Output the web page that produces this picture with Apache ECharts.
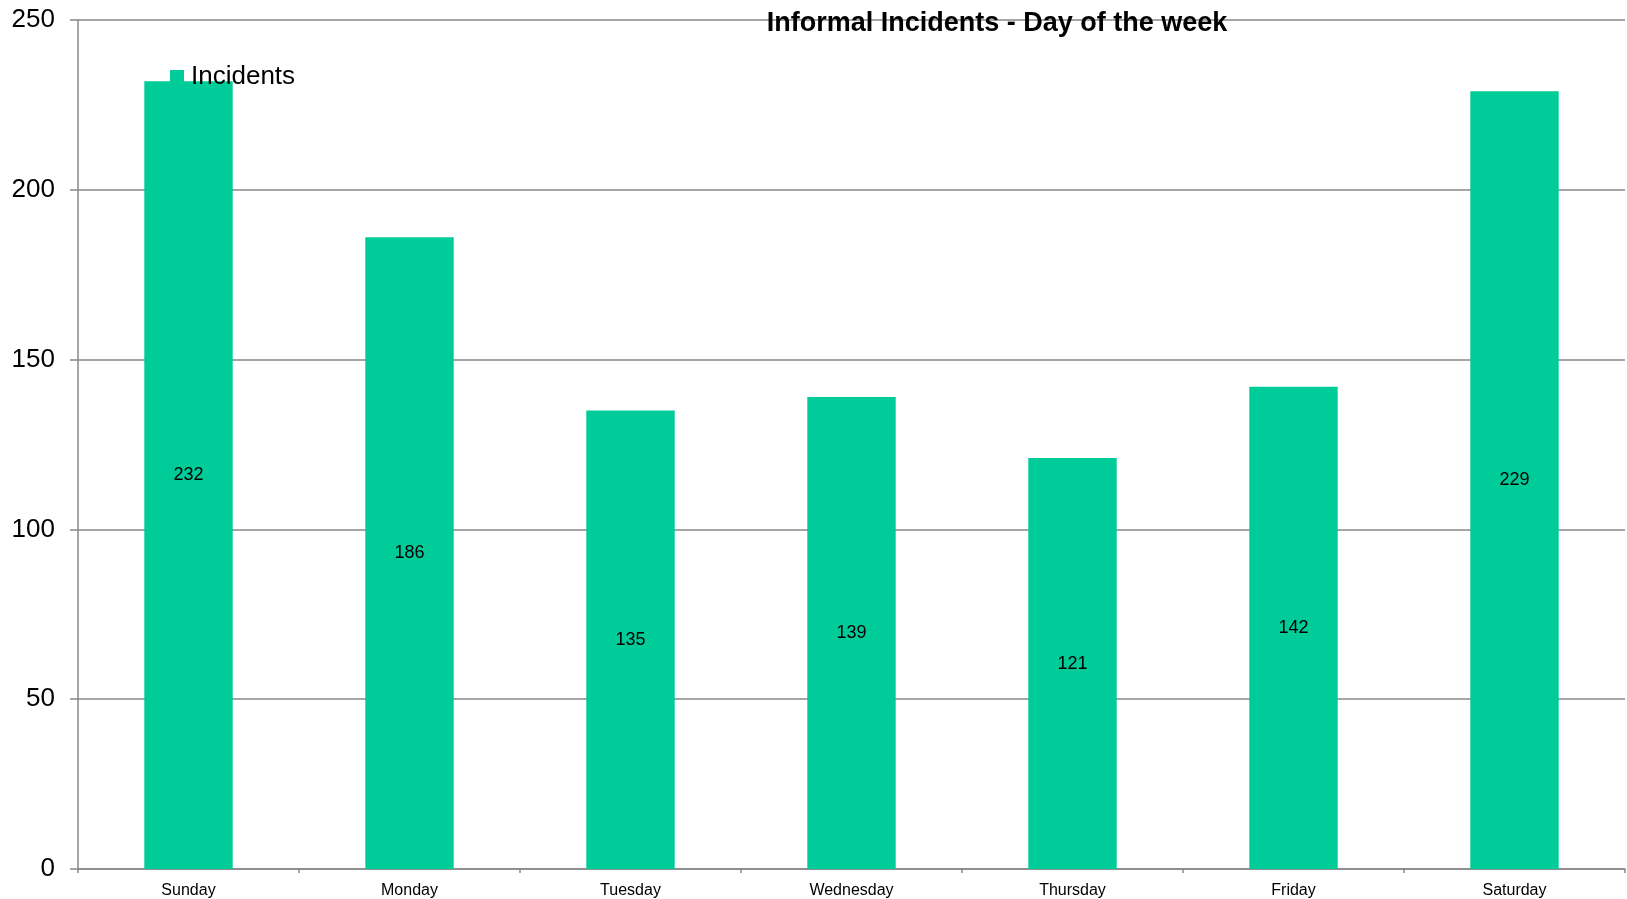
<!DOCTYPE html>
<html>
<head>
<meta charset="utf-8">
<script src="https://cdn.jsdelivr.net/npm/echarts@6/dist/echarts.min.js"></script>
<style>
html,body{margin:0;padding:0;background:#fff;}
#chart{width:1627px;height:899px;}
</style>
</head>
<body>
<div id="chart"></div>
<script>
const categories = ['Sunday','Monday','Tuesday','Wednesday','Thursday','Friday','Saturday'];
const incidents = [232,186,135,139,121,142,229];
const yTicks = [0,50,100,150,200,250];

const chart = echarts.init(document.getElementById('chart'));
const FONT = '"Liberation Sans", Arial, sans-serif';
chart.setOption({
  animation: false,
  backgroundColor: '#fff',
  textStyle: { fontFamily: FONT },
  title: {
    text: 'Informal Incidents - Day of the week',
    left: 997, top: 10, textAlign: 'center', padding: 0,
    textStyle: { fontFamily: FONT, fontSize: 27, fontWeight: 'bold', color: '#000' }
  },
  legend: {
    data: ['Incidents'],
    left: 170, top: 64, padding: 0,
    icon: 'rect', itemWidth: 14, itemHeight: 14, itemGap: 5,
    textStyle: { fontFamily: FONT, fontSize: 26, color: '#000', padding: [0,0,0,2] }
  },
  grid: { left: 78, right: 2, top: 20, bottom: 30, containLabel: false },
  xAxis: {
    type: 'category',
    data: categories,
    axisLine: { lineStyle: { color: '#888', width: 1.5 } },
    axisTick: { show: true, length: 4, lineStyle: { color: '#888', width: 1.5 } },
    axisLabel: { fontFamily: FONT, fontSize: 16, color: '#000', margin: 14 }
  },
  yAxis: {
    type: 'value',
    min: 0, max: yTicks[yTicks.length-1], interval: 50,
    axisLine: { show: true, lineStyle: { color: '#888', width: 1.5 } },
    axisTick: { show: true, length: 8, lineStyle: { color: '#888', width: 1.5 } },
    axisLabel: { fontFamily: FONT, fontSize: 26, color: '#000', margin: 23, padding: [8,0,0,0] },
    splitLine: { show: true, lineStyle: { color: '#888', width: 1.5 } }
  },
  series: [{
    name: 'Incidents',
    type: 'bar',
    data: incidents,
    barWidth: '40%',
    itemStyle: { color: '#00cc99' },
    label: { show: true, position: 'inside', fontFamily: FONT, fontSize: 18, color: '#000' }
  }]
});
</script>
</body>
</html>
